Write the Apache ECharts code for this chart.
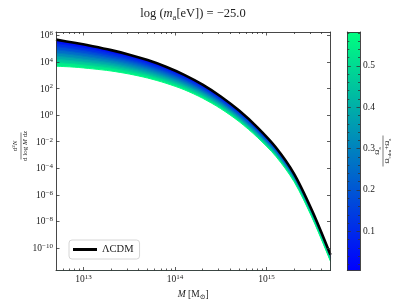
<!DOCTYPE html>
<html><head><meta charset="utf-8">
<script src="https://cdn.jsdelivr.net/npm/echarts@6/dist/echarts.min.js"></script>
<style>html,body{margin:0;padding:0;background:#fff}#c{width:411px;height:308px}</style>
</head><body><div id="c"></div>
<script>
// ---- data ----
const massMsun = [5e12, 7.94e12, 1.26e13, 2.0e13, 3.16e13, 5.01e13, 7.94e13, 1.26e14, 2.0e14, 3.16e14,
  5.01e14, 7.94e14, 1.26e15, 2.0e15, 3.16e15, 5e15];
// log10 of d2N/(dlogM dz)
const logDN_LCDM = [5.68, 5.44, 5.18, 4.89, 4.55, 4.14, 3.64, 3.03, 2.29, 1.40, 0.34, -0.92, -2.42, -4.42, -7.22, -10.52];
const fLevels = [0.0053, 0.08, 0.15, 0.22, 0.29, 0.36, 0.43, 0.50, 0.58];
const logDN_f0053 = [5.66, 5.42, 5.16, 4.88, 4.54, 4.13, 3.63, 3.02, 2.28, 1.39, 0.33, -0.93, -2.43, -4.43, -7.22, -10.52];
const logDN_f008  = [5.40, 5.19, 4.95, 4.67, 4.35, 3.95, 3.47, 2.88, 2.15, 1.27, 0.23, -1.02, -2.51, -4.50, -7.29, -10.59];
const logDN_f015  = [5.16, 4.97, 4.74, 4.48, 4.17, 3.79, 3.32, 2.74, 2.03, 1.16, 0.13, -1.12, -2.60, -4.58, -7.36, -10.65];
const logDN_f022  = [4.92, 4.75, 4.54, 4.29, 4.00, 3.63, 3.17, 2.61, 1.90, 1.05, 0.03, -1.21, -2.68, -4.65, -7.42, -10.71];
const logDN_f029  = [4.68, 4.53, 4.33, 4.11, 3.82, 3.47, 3.02, 2.47, 1.78, 0.94, -0.08, -1.30, -2.76, -4.72, -7.49, -10.77];
const logDN_f036  = [4.44, 4.30, 4.12, 3.92, 3.64, 3.30, 2.87, 2.33, 1.66, 0.83, -0.18, -1.39, -2.84, -4.79, -7.56, -10.83];
const logDN_f043  = [4.20, 4.08, 3.92, 3.73, 3.47, 3.14, 2.72, 2.20, 1.53, 0.72, -0.28, -1.48, -2.92, -4.86, -7.62, -10.89];
const logDN_f050  = [3.96, 3.86, 3.71, 3.54, 3.29, 2.98, 2.57, 2.06, 1.41, 0.61, -0.38, -1.58, -3.01, -4.94, -7.69, -10.95];
const logDN_f058  = [3.68, 3.61, 3.48, 3.32, 3.09, 2.79, 2.40, 1.91, 1.27, 0.48, -0.49, -1.68, -3.10, -5.02, -7.76, -11.02];
const axionCurves = [logDN_f0053, logDN_f008, logDN_f015, logDN_f022, logDN_f029, logDN_f036, logDN_f043, logDN_f050, logDN_f058];

// ticks
const xMajorTicks = [1e13, 1e14, 1e15];
const xMinorTicks = [6e12, 7e12, 8e12, 9e12, 2e13, 3e13, 4e13, 5e13, 6e13, 7e13, 8e13, 9e13,
  2e14, 3e14, 4e14, 5e14, 6e14, 7e14, 8e14, 9e14, 2e15, 3e15, 4e15];
const yMajorTicks = [1e-10, 1e-8, 1e-6, 1e-4, 1e-2, 1, 1e2, 1e4, 1e6];
const cbarMajorTicks = [0.1, 0.2, 0.3, 0.4, 0.5];
const cbarMinorTicks = [0.02, 0.04, 0.06, 0.08, 0.12, 0.14, 0.16, 0.18, 0.22, 0.24, 0.26, 0.28,
  0.32, 0.34, 0.36, 0.38, 0.42, 0.44, 0.46, 0.48, 0.52, 0.54, 0.56, 0.58];
const CB_MIN = 0.0053, CB_MAX = 0.582;

// ---- helpers ----
const FONT = "'Liberation Serif', 'DejaVu Serif', serif";
const INK = '#222';
function winter(f) {
  const t = Math.max(0, Math.min(1, (f - CB_MIN) / (CB_MAX - CB_MIN)));
  return 'rgb(0,' + Math.round(255 * t) + ',' + Math.round(255 * (1 - 0.5 * t)) + ')';
}
function pow10Label(v) {
  const e = Math.round(Math.log10(v));
  return '{b|10}{s|' + (e < 0 ? '\u2212' + (-e) : e) + '}';
}
const powRich = {
  b: { fontFamily: FONT, fontSize: 9.5, color: INK, verticalAlign: 'bottom' },
  s: { fontFamily: FONT, fontSize: 7, color: INK, verticalAlign: 'bottom', padding: [0, 0, 4, 0] }
};
const axisLineStyle = { color: '#333', width: 0.9 };

const chart = echarts.init(document.getElementById('c'), null, { renderer: 'canvas' });

const series = [];
axionCurves.forEach((curve, i) => {
  const last = i === axionCurves.length - 1;
  const fill = last ? '#ffffff' : winter((fLevels[i] + fLevels[i + 1]) / 2);
  series.push({
    type: 'line', xAxisIndex: 0, yAxisIndex: 0,
    data: massMsun.map((m, j) => [m, Math.pow(10, curve[j])]),
    smooth: 0.3, showSymbol: false, silent: true, z: 2,
    lineStyle: { color: winter(fLevels[i]), width: 1 },
    areaStyle: { color: fill, opacity: 1, origin: 'start' }
  });
});
series.push({
  name: '\u039BCDM', type: 'line', xAxisIndex: 0, yAxisIndex: 0,
  data: massMsun.map((m, j) => [m, Math.pow(10, logDN_LCDM[j])]),
  smooth: 0.3, showSymbol: false, silent: true, z: 3,
  itemStyle: { color: '#000' },
  lineStyle: { color: '#000', width: 2.6 }
});
series.push({
  type: 'bar', xAxisIndex: 4, yAxisIndex: 2, data: [CB_MAX], barWidth: '100%', silent: true,
  itemStyle: {
    color: new echarts.graphic.LinearGradient(0, 1, 0, 0, [
      { offset: 0, color: winter(CB_MIN) }, { offset: 1, color: winter(CB_MAX) }
    ])
  }
});

const mainX = (pos, ticks, len, line, label) => ({
  type: 'log', gridIndex: 0, position: pos, min: 5e12, max: 5e15, z: 10,
  axisLine: { show: line, onZero: false, lineStyle: axisLineStyle },
  axisTick: { show: true, inside: true, length: len, customValues: ticks, lineStyle: { color: '#333', width: 0.8 } },
  axisLabel: label ? { show: true, customValues: ticks, formatter: pow10Label, rich: powRich, margin: 3 } : { show: false },
  splitLine: { show: false }, minorTick: { show: false }
});
const mainY = (pos, label) => ({
  type: 'log', gridIndex: 0, position: pos, min: 2e-12, max: 1.8e6, z: 10,
  axisLine: { show: true, onZero: false, lineStyle: axisLineStyle },
  axisTick: { show: true, inside: true, length: 3.5, customValues: yMajorTicks, lineStyle: { color: '#333', width: 0.8 } },
  axisLabel: label ? { show: true, customValues: yMajorTicks, formatter: pow10Label, rich: powRich, margin: 3 } : { show: false },
  splitLine: { show: false }
});
const cbarY = (pos, ticks, len, line, label) => ({
  type: 'value', gridIndex: 1, position: pos, min: CB_MIN, max: CB_MAX, z: 10,
  axisLine: { show: line, lineStyle: axisLineStyle },
  axisTick: { show: true, inside: true, length: len, customValues: ticks, lineStyle: { color: '#333', width: 0.8 } },
  axisLabel: label ? { show: true, customValues: ticks, margin: 3, fontFamily: FONT, fontSize: 9.5, color: INK,
    formatter: v => v.toFixed(1) } : { show: false },
  splitLine: { show: false }
});

const xMainX = mainX('bottom', xMajorTicks, 3.5, true, true);
xMainX.name = '{i|M}{n| [M}{sb|\u2299}{n|]}';
xMainX.nameLocation = 'middle';
xMainX.nameGap = 17;
xMainX.nameTextStyle = {
  rich: {
    i: { fontFamily: FONT, fontStyle: 'italic', fontSize: 9.5, color: INK, verticalAlign: 'bottom', padding: [0, 0, 1.5, 0] },
    n: { fontFamily: FONT, fontSize: 9.5, color: INK, verticalAlign: 'bottom', padding: [0, 0, 1.5, 0] },
    sb: { fontFamily: FONT, fontSize: 7, color: INK, verticalAlign: 'bottom' }
  }
};

const fracRich = {
  r: { fontFamily: FONT, fontSize: 7, fill: INK, verticalAlign: 'bottom', padding: [0, 0, 1.3, 0] },
  i: { fontFamily: FONT, fontSize: 7, fontStyle: 'italic', fill: INK, verticalAlign: 'bottom', padding: [0, 0, 1.3, 0] },
  p: { fontFamily: FONT, fontSize: 5, fill: INK, verticalAlign: 'bottom', padding: [0, 0, 4, 0] },
  sb: { fontFamily: FONT, fontSize: 5, fill: INK, verticalAlign: 'bottom' }
};

const option = {
  animation: false,
  backgroundColor: '#fff',
  grid: [
    { left: 56, top: 32, width: 274.5, height: 238.5, containLabel: false },
    { left: 347.3, top: 32, width: 12.7, height: 238.5, containLabel: false }
  ],
  xAxis: [
    xMainX,
    mainX('bottom', xMinorTicks, 2, false, false),
    mainX('top', xMajorTicks, 3.5, true, false),
    mainX('top', xMinorTicks, 2, false, false),
    { type: 'category', gridIndex: 1, position: 'bottom', data: ['c'], z: 10,
      axisLine: { show: true, lineStyle: axisLineStyle }, axisTick: { show: false }, axisLabel: { show: false } },
    { type: 'category', gridIndex: 1, position: 'top', data: ['c'], z: 10,
      axisLine: { show: true, lineStyle: axisLineStyle }, axisTick: { show: false }, axisLabel: { show: false } }
  ],
  yAxis: [
    mainY('left', true),
    mainY('right', false),
    cbarY('right', cbarMajorTicks, 3.5, true, true),
    cbarY('right', cbarMinorTicks, 2, false, false),
    cbarY('left', cbarMajorTicks, 3.5, true, false),
    cbarY('left', cbarMinorTicks, 2, false, false)
  ],
  legend: {
    data: ['\u039BCDM'], left: 69, top: 240, orient: 'horizontal',
    icon: 'rect', itemWidth: 24, itemHeight: 3, itemGap: 5,
    padding: [4, 6, 4, 4], borderColor: '#cccccc', borderWidth: 0.8, borderRadius: 3,
    backgroundColor: 'rgba(255,255,255,0.8)',
    textStyle: { fontFamily: FONT, fontSize: 10.5, color: INK },
    selectedMode: false
  },
  graphic: [
    { type: 'text', x: 193, y: 15, silent: true,
      style: { text: '{n|log (}{i|m}{sb|a}{n|[eV]) = \u221225.0}', align: 'center', verticalAlign: 'middle',
        rich: {
          n: { fontFamily: FONT, fontSize: 12.5, fill: INK, verticalAlign: 'bottom', padding: [0, 0, 2, 0] },
          i: { fontFamily: FONT, fontSize: 12.5, fontStyle: 'italic', fill: INK, verticalAlign: 'bottom', padding: [0, 0, 2, 0] },
          sb: { fontFamily: FONT, fontSize: 8.5, fill: INK, verticalAlign: 'bottom' }
        } } },
    { type: 'group', x: 21, y: 146, rotation: Math.PI / 2, silent: true,
      children: [
        { type: 'text', style: { text: '{r|d}{p|2}{i|N}', rich: fracRich, x: 0, y: -0.8, align: 'center', verticalAlign: 'bottom' } },
        { type: 'line', shape: { x1: -13.5, y1: 0, x2: 13.5, y2: 0 }, style: { stroke: INK, lineWidth: 0.6 } },
        { type: 'text', style: { text: '{r|d log }{i|M}{r| d}{i|z}', rich: fracRich, x: 0, y: 0.8, align: 'center', verticalAlign: 'top' } }
      ] },
    { type: 'group', x: 383, y: 151, rotation: Math.PI / 2, silent: true,
      children: [
        { type: 'text', style: { text: '{r|\u03A9}{sb|a}', rich: fracRich, x: 0, y: -0.8, align: 'center', verticalAlign: 'bottom' } },
        { type: 'line', shape: { x1: -15.5, y1: 0, x2: 15.5, y2: 0 }, style: { stroke: INK, lineWidth: 0.6 } },
        { type: 'text', style: { text: '{r|\u03A9}{sb|cdm}{r|+\u03A9}{sb|a}', rich: fracRich, x: 0, y: 0.8, align: 'center', verticalAlign: 'top' } }
      ] }
  ],
  series: series
};
chart.setOption(option);
</script>
</body></html>
